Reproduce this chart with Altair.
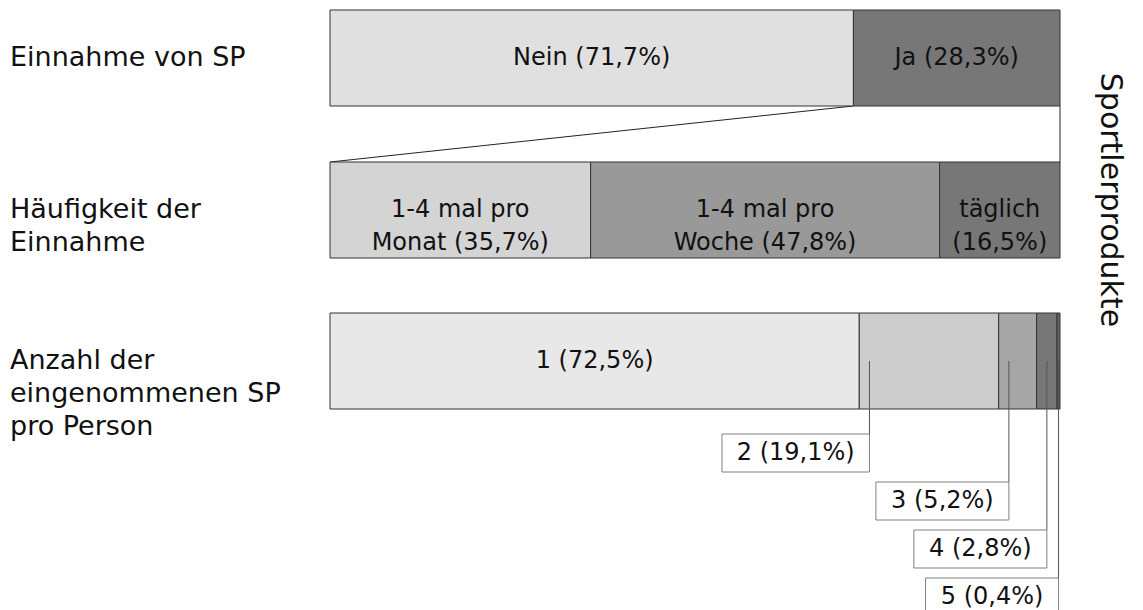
import altair as alt
import pandas as pd

# --- data -------------------------------------------------------------
row_titles = ["Einnahme von SP", "Häufigkeit der\nEinnahme", "Anzahl der\neingenommenen SP\npro Person"]

intake_cats = ["Nein", "Ja"]
intake_vals = [71.7, 28.3]

freq_cats = ["1-4 mal pro\nMonat", "1-4 mal pro\nWoche", "täglich"]
freq_vals = [35.7, 47.8, 16.5]

count_cats = ["1", "2", "3", "4", "5"]
count_vals = [72.5, 19.1, 5.2, 2.8, 0.4]

side_title = "Sportlerprodukte"

# --- styling / layout --------------------------------------------------
FONT = "DejaVu Sans"
PLOT_W, PLOT_H = 730, 610
BAR_H = 96
BAR_TOPS = [10, 162, 313]
intake_colors = ["#e0e0e0", "#777777"]
freq_colors = ["#d4d4d4", "#999999", "#777777"]
count_colors = ["#e8e8e8", "#cccccc", "#a6a6a6", "#777777", "#666666"]
EDGE = "#333333"

LEAD_OFF = 1.4          # leader offset into a segment, in percent
LEAD_Y = 361
BOX_TOP0, BOX_STEP, BOX_H = 434, 48, 38

xs = alt.Scale(domain=[0, 100], nice=False, zero=False)
ys = alt.Scale(domain=[0, PLOT_H], range=[0, PLOT_H], nice=False, zero=False)


def pct(v):
    return f"{v:.1f}".replace(".", ",") + "%"


def segments(cats, vals, colors, top):
    rows, s = [], 0.0
    for c, v, col in zip(cats, vals, colors):
        sep = "\n" if c == "täglich" else " "
        rows.append(dict(cat=c, start=s, end=s + v, mid=s + v / 2,
                         top=top, bottom=top + BAR_H, yc=top + BAR_H / 2,
                         label=f"{c}{sep}({pct(v)})", color=col))
        s += v
    return pd.DataFrame(rows)


def bar_layers(df, text_df=None):
    bars = alt.Chart(df).mark_rect(stroke=EDGE, strokeWidth=1).encode(
        x=alt.X("start:Q", scale=xs, axis=None),
        x2="end:Q",
        y=alt.Y("top:Q", scale=ys, axis=None),
        y2="bottom:Q",
        color=alt.Color("color:N", scale=None),
    )
    tdf = df if text_df is None else text_df
    texts = alt.Chart(tdf).mark_text(
        font=FONT, fontSize=24, lineBreak="\n", lineHeight=33,
        baseline="middle", align="center", color="#111111",
    ).encode(
        x=alt.X("mid:Q", scale=xs, axis=None),
        y=alt.Y("yc:Q", scale=ys, axis=None),
        text="label:N",
    )
    return [bars, texts]


intake_df = segments(intake_cats, intake_vals, intake_colors, BAR_TOPS[0])
freq_df = segments(freq_cats, freq_vals, freq_colors, BAR_TOPS[1])
count_df = segments(count_cats, count_vals, count_colors, BAR_TOPS[2])

# callouts for the small segments of the last bar
call_rows = []
for k, r in enumerate(count_df.iloc[1:].itertuples()):
    width = r.end - r.start
    leader = r.start + min(LEAD_OFF, width / 2)
    box_w = 14.5 * len(r.label) + 17
    left = leader - box_w * 100 / PLOT_W
    top = BOX_TOP0 + k * BOX_STEP
    call_rows.append(dict(leader=leader, left=left, bmid=(left + leader) / 2,
                          lead_y=LEAD_Y, top=top, bottom=top + BOX_H,
                          ymid=top + BOX_H / 2, label=r.label))
call_df = pd.DataFrame(call_rows)

leaders = alt.Chart(call_df).mark_rule(color="#555555", strokeWidth=1).encode(
    x=alt.X("leader:Q", scale=xs, axis=None),
    y=alt.Y("lead_y:Q", scale=ys, axis=None),
    y2="top:Q",
)
boxes = alt.Chart(call_df).mark_rect(fill="white", stroke="#808080", strokeWidth=1).encode(
    x=alt.X("left:Q", scale=xs, axis=None),
    x2="leader:Q",
    y=alt.Y("top:Q", scale=ys, axis=None),
    y2="bottom:Q",
)
box_text = alt.Chart(call_df).mark_text(
    font=FONT, fontSize=24, baseline="middle", align="center", color="#111111"
).encode(
    x=alt.X("bmid:Q", scale=xs, axis=None),
    y=alt.Y("ymid:Q", scale=ys, axis=None),
    text="label:N",
)

# connector from the "Ja" segment down to the breakdown bar
conn_df = pd.DataFrame({
    "x": [intake_vals[0], 100.0],
    "x2": [0.0, 100.0],
    "y": [BAR_TOPS[0] + BAR_H] * 2,
    "y2": [BAR_TOPS[1]] * 2,
})
connector = alt.Chart(conn_df).mark_rule(color="#222222", strokeWidth=1).encode(
    x=alt.X("x:Q", scale=xs, axis=None),
    x2="x2:Q",
    y=alt.Y("y:Q", scale=ys, axis=None),
    y2="y2:Q",
)

# row titles on the left
titles_df = pd.DataFrame({
    "t": row_titles,
    "yc": [t + BAR_H / 2 for t in BAR_TOPS],
})
row_labels = alt.Chart(titles_df).mark_text(
    font=FONT, fontSize=27, lineBreak="\n", lineHeight=33,
    align="left", baseline="middle", color="#111111",
).encode(
    x=alt.value(-320),
    y=alt.Y("yc:Q", scale=ys, axis=None),
    text="t:N",
)

side = alt.Chart(pd.DataFrame({"t": [side_title], "yc": [200]})).mark_text(
    font=FONT, fontSize=30, angle=90, align="center", baseline="middle", color="#111111"
).encode(
    x=alt.value(780),
    y=alt.Y("yc:Q", scale=ys, axis=None),
    text="t:N",
)

layers = (
    [connector]
    + bar_layers(intake_df)
    + bar_layers(freq_df)
    + bar_layers(count_df, count_df.iloc[:1])
    + [leaders, boxes, box_text, row_labels, side]
)

chart = alt.layer(*layers).properties(
    width=PLOT_W,
    height=PLOT_H,
    padding={"left": 330, "top": 0, "right": 83, "bottom": 0},
    autosize=alt.AutoSizeParams(type="none"),
    background="white",
).configure_view(stroke=None)

chart.save("out.html", embed_options={"renderer": "svg", "actions": False})
